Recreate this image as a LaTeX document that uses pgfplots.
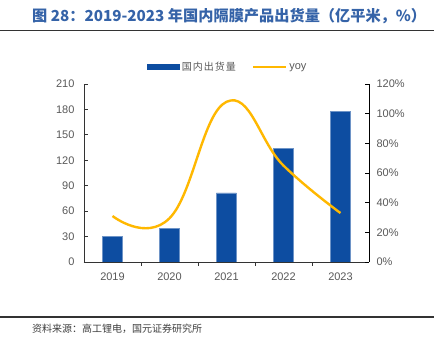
\documentclass[border=0pt]{standalone}
\usepackage{pgfplots}
\pgfplotsset{compat=1.18}
\usepackage{fontspec}
\setmainfont{Liberation Sans}
\newfontfamily\cjk{Noto Sans CJK SC}
\newfontfamily\cjkls{Noto Sans CJK SC}[LetterSpace=10]
\definecolor{barblue}{HTML}{0D4DA1}
\definecolor{lineyel}{HTML}{FFB800}
\definecolor{titleblue}{HTML}{3563A8}
\definecolor{tickgray}{HTML}{595959}
\begin{document}
\begin{tikzpicture}
\useasboundingbox (0,0) rectangle (434pt,337pt);
\fill[white] (0,0) rectangle (434pt,337pt);
% title
\node[anchor=west, text=titleblue, font=\cjk\bfseries\fontsize{15.2}{15.2}\selectfont, inner sep=0pt] at (32pt,321pt) {图 28：2019-2023 年国内隔膜产品出货量（亿平米，\%）};
\draw[line width=1.3pt, black!80] (0,306.5pt) -- (434pt,306.5pt);
\draw[line width=1.6pt, black!80] (0,20pt) -- (434pt,20pt);
\node[anchor=west, text=black!75, font=\cjk\fontsize{10}{10}\selectfont, inner sep=0pt] at (32pt,8pt) {资料来源：高工锂电，国元证券研究所};
\begin{axis}[
  at={(84pt,75pt)}, anchor=south west,
  scale only axis, width=285pt, height=178pt,
  xmin=-0.5, xmax=4.5, ymin=0, ymax=210,
  axis x line*=bottom, axis y line*=left,
  axis line style={black!80, line width=0.9pt},
  /pgf/number format/assume math mode=true,
  xtick={0,1,2,3,4},
  xticklabels={2019,2020,2021,2022,2023},
  major x tick style={draw=none},
  minor xtick={0.5,1.5,2.5,3.5},
  minor tick length=4pt,
  minor x tick style={black!80, line width=0.8pt},
  ytick={0,30,...,210},
  major tick length=4pt,
  y tick style={black!80, line width=0.8pt},
  tick align=inside,
  ticklabel style={text=tickgray, font=\fontsize{11}{11}\selectfont},
  xticklabel style={yshift=-3pt},
  yticklabel style={xshift=-6pt},
  ybar, bar width=20pt,
]
\addplot[fill=barblue, draw=barblue!60!white, line width=0.4pt] coordinates {(0,30.6) (1,39.5) (2,81.6) (3,134.3) (4,178)};
\end{axis}
\begin{axis}[
  at={(84pt,75pt)}, anchor=south west,
  scale only axis, width=285pt, height=178pt,
  xmin=-0.5, xmax=4.5, ymin=0, ymax=120,
  hide x axis,
  axis y line*=right,
  axis line style={black, line width=0.9pt},
  /pgf/number format/assume math mode=true,
  ytick={0,20,...,120},
  yticklabel={\pgfmathprintnumber{\tick}\%},
  major tick length=4pt,
  y tick style={black, line width=0.8pt},
  tick align=inside,
  ticklabel style={text=tickgray, font=\fontsize{11}{11}\selectfont},
  yticklabel style={xshift=4pt},
  legend columns=2,
  legend style={at={(0.505,1.095)}, anchor=center, draw=none, fill=none,
    font=\fontsize{11}{11}\selectfont, text=tickgray,
    /tikz/every even column/.append style={column sep=14pt}},
]
\addlegendimage{legend image code/.code={\fill[barblue] (0pt,-2.5pt) rectangle (32pt,2.5pt);}}
\addlegendentry{{\cjkls\fontsize{10}{10}\selectfont 国内出货量}}
\addplot[color=lineyel, line width=2.4pt, smooth, tension=0.75, mark=none,
  legend image code/.code={\draw[lineyel, line width=2.4pt] (0pt,0pt) -- (33pt,0pt);}]
  coordinates {(0,31) (1,29.5) (2,108) (3,65) (4,33)};
\addlegendentry{yoy}
\end{axis}
\end{tikzpicture}
\end{document}
